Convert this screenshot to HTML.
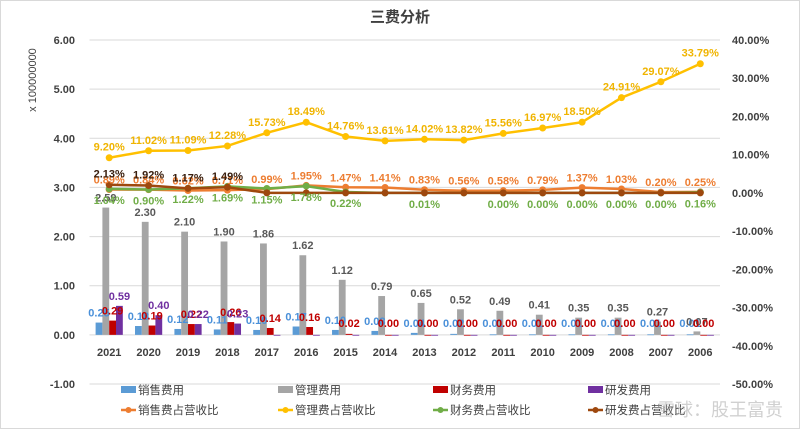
<!DOCTYPE html>
<html><head><meta charset="utf-8">
<style>
html,body{margin:0;padding:0;background:#fff}
svg{display:block;font-family:"Liberation Sans","Noto Sans CJK SC",sans-serif}
</style></head>
<body>
<svg id="c" width="800" height="429" viewBox="0 0 800 429">
<rect x="0.5" y="0.5" width="799" height="428" fill="#fff" stroke="#d9d9d9"/>
<text x="400" y="22" text-anchor="middle" font-size="15" font-weight="bold" fill="#404040">三费分析</text>
<text transform="translate(36,80) rotate(-90)" text-anchor="middle" font-size="11" fill="#404040">x 100000000</text>
<g id="grid"></g><g id="bars"></g><g id="lines"></g><g id="labels"></g><g id="axes"></g><g id="legend"></g>
</svg>
<script>
const categories=["2021","2020","2019","2018","2017","2016","2015","2014","2013","2012","2011","2010","2009","2008","2007","2006"];
const salesCost=[0.25,0.18,0.12,0.11,0.10,0.17,0.10,0.08,0.04,0.02,0.01,0.01,0.01,0.01,0.01,0.01];
const adminCost=[2.59,2.30,2.10,1.90,1.86,1.62,1.12,0.79,0.65,0.52,0.49,0.41,0.35,0.35,0.27,0.07];
const financeCost=[0.29,0.19,0.22,0.26,0.14,0.16,0.02,0,0,0,0,0,0,0,0,0];
const rdCost=[0.59,0.40,0.22,0.23,0,0,0,0,0,0,0,0,0,0,0,0];
const salesPct=[0.89,0.84,0.62,0.71,0.99,1.95,1.47,1.41,0.83,0.56,0.58,0.79,1.37,1.03,0.20,0.25];
const adminPct=[9.20,11.02,11.09,12.28,15.73,18.49,14.76,13.61,14.02,13.82,15.56,16.97,18.50,24.91,29.07,33.79];
const financePct=[1.04,0.90,1.22,1.69,1.15,1.78,0.22,0,0.01,0,0,0,0,0,0,0.16];
const rdPct=[2.13,1.92,1.17,1.49,0,0,0,0,0,0,0,0,0,0,0,0];
const leftTicks=[6,5,4,3,2,1,0,-1];
const rightTicks=[40,30,20,10,0,-10,-20,-30,-40,-50];

const NS="http://www.w3.org/2000/svg";
const X0=89.5,X1=720,Y0=40,Y1=384;
const bw=(X1-X0)/categories.length;
const xc=i=>X0+bw*(i+0.5);
const yL=v=>Y1-(v+1)/7*(Y1-Y0);
const yR=v=>Y1-(v+50)/90*(Y1-Y0);
function mk(tag,attrs,parent,txt){const e=document.createElementNS(NS,tag);for(const k in attrs)e.setAttribute(k,attrs[k]);if(txt!==undefined)e.textContent=txt;document.getElementById(parent).appendChild(e);return e;}

leftTicks.forEach(t=>{
  const g=mk('line',{x1:X0,x2:X1,y1:yL(t),y2:yL(t),stroke:'#d9d9d9','stroke-width':1},'grid');
  
  
  const l=mk('text',{x:75,y:yL(t)+4,'text-anchor':'end','font-size':11,'font-weight':'bold',fill:'#404040'},'axes',t.toFixed(2));
  
  
});
rightTicks.forEach(t=>{
  const l=mk('text',{x:732,y:yR(t)+4,'font-size':11,'font-weight':'bold',fill:'#404040'},'axes',t.toFixed(2)+'%');
  
  
});
categories.forEach((c,i)=>{
  const l=mk('text',{x:xc(i),y:356,'text-anchor':'middle','font-size':11,'font-weight':'bold',fill:'#404040'},'axes',c);
  
  
});

const barSeries=[[salesCost,'#5b9bd5','#4a90d9'],[adminCost,'#a5a5a5','#595959'],[financeCost,'#c00000','#c00000'],[rdCost,'#7030a0','#7030a0']];
const w=6.8;
barSeries.forEach((s,k)=>{
  s[0].forEach((v,i)=>{
    const x=xc(i)-2*w+k*w;
    const y=yL(Math.max(v,0)),h=Math.abs(yL(v)-yL(0));
    const r=mk('rect',{x:x,y:y,width:w,height:Math.max(h,0.8),fill:s[1]},'bars');
    
    
    if(k===3&&v===0)return;
    if(k===2&&v===0&&i<7)return;
    const t=mk('text',{x:x+w/2,y:(k===1?yL(v)-6:Math.min(yL(v)-6,yL(0)-8)),'text-anchor':'middle','font-size':11,'font-weight':'bold',fill:s[2]},'labels',v.toFixed(2));
    
    
  });
});

const lineSeries=[[salesPct,'#ed7d31',-6],[adminPct,'#ffc000',-7],[financePct,'#70ad47',15],[rdPct,'#9e480e',-7]];
lineSeries.forEach((s,k)=>{
  const pts=s[0].map((v,i)=>xc(i)+','+yR(v)).join(' ');
  const p=mk('polyline',{points:pts,fill:'none',stroke:s[1],'stroke-width':2.5},'lines');
  
  
  s[0].forEach((v,i)=>{
    const c=mk('circle',{cx:xc(i),cy:yR(v),r:3.5,fill:s[1]},'lines');
    
    
    if((k===3&&v===0)||(k===2&&v===0&&(i===7||i===9)))return;
    const t=mk('text',{x:xc(i),y:yR(v)+s[2],'text-anchor':'middle','font-size':11,'font-weight':'bold',fill:k===1?'#f0b400':(k===3?'#3a2010':s[1])},'labels',v.toFixed(2)+'%');
    
    
  });
});

const legendItems=[['销售费用','#5b9bd5',0],['管理费用','#a5a5a5',0],['财务费用','#c00000',0],['研发费用','#7030a0',0],['销售费占营收比','#ed7d31',1],['管理费占营收比','#ffc000',1],['财务费占营收比','#70ad47',1],['研发费占营收比','#9e480e',1]];
const lx=[121,278,433,588];
legendItems.forEach((it,i)=>{
  const x=lx[i%4],y=i<4?390:410;
  if(it[2]===0){
    const r=mk('rect',{x:x,y:y-4,width:15,height:7,fill:it[1]},'legend');
    
    
  }else{
    const l=mk('line',{x1:x,x2:x+15,y1:y,y2:y,stroke:it[1],'stroke-width':2.5},'legend');
    
    
    const c=mk('circle',{cx:x+7.5,cy:y,r:3,fill:it[1]},'legend');
    
    
  }
  const t=mk('text',{x:x+17,y:y+4,'font-size':11.5,fill:'#404040'},'legend',it[0]);
  
  
});
const wm=mk('text',{x:720,y:416,'text-anchor':'middle','font-size':18,fill:'#b0b0b0','fill-opacity':0.6},'legend','雪球：股王富贵');


</script>
</body></html>
